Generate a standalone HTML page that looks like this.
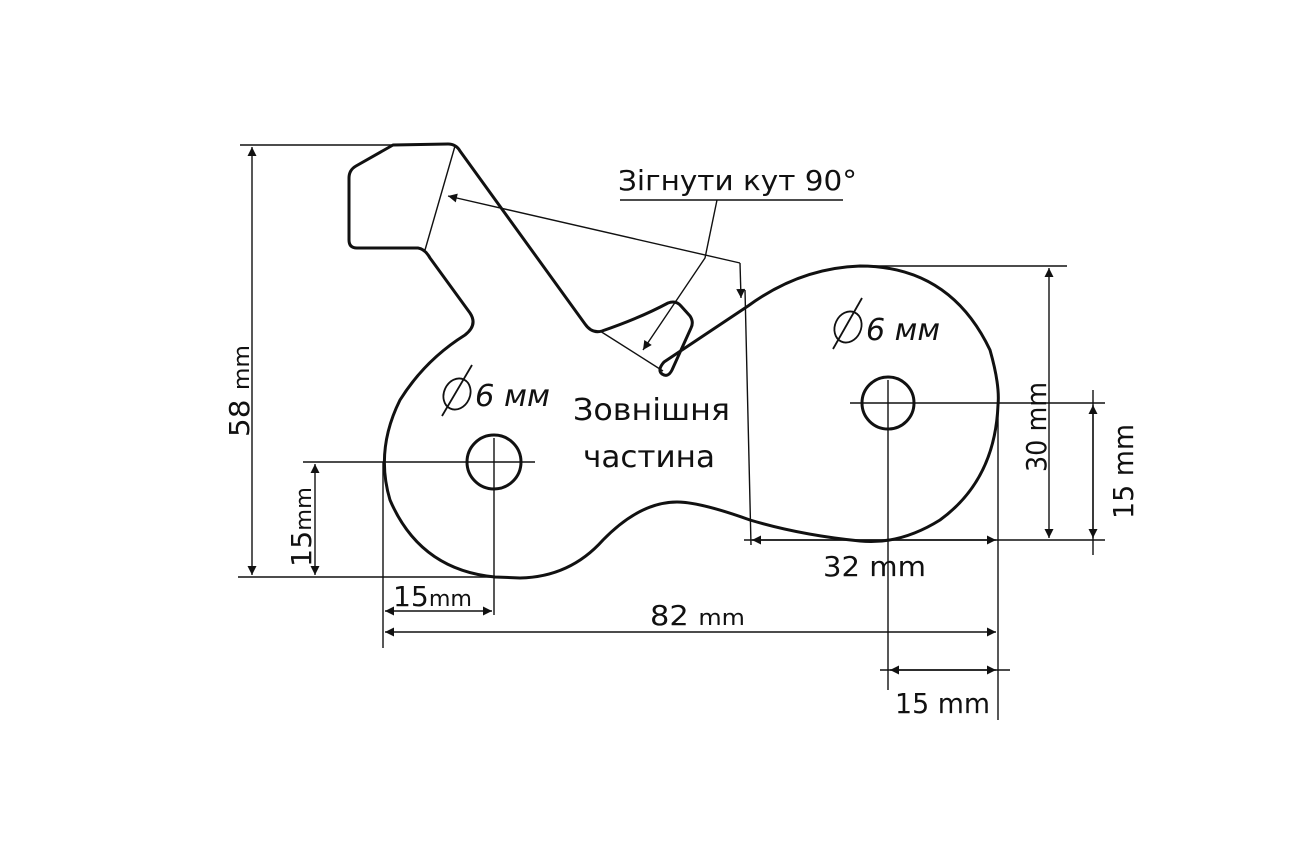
<!DOCTYPE html>
<html><head><meta charset="utf-8"><style>
html,body{margin:0;padding:0;background:#fff;}
svg{display:block}
text{font-family:"DejaVu Sans","Liberation Sans",sans-serif;fill:#111;}
</style></head><body>
<svg width="1296" height="864" viewBox="0 0 1296 864" xmlns="http://www.w3.org/2000/svg">
<defs>
<marker id="a" viewBox="0 0 10 10" refX="10" refY="5" markerWidth="20" markerHeight="9" markerUnits="userSpaceOnUse" orient="auto-start-reverse">
<path d="M0,0 L10,5 L0,10 z" fill="#111"/></marker>
</defs>
<g fill="none" stroke="#111" stroke-width="3" stroke-linejoin="round">
<path d="M393,145 L448,144 Q456,144 460,151 L585,324 Q592,334 602,331 Q640,318 668,303 Q676,300 681,306 L690,316 Q694,322 691,328 L672,370 Q668,378 662,374 Q657,370 664,362 L748,306 Q800,268 860,266 Q950,266 990,350 Q1000,385 998,405 Q995,480 940,520 Q900,545 860,541 Q800,535 750,520 Q700,502 677,502 Q640,502 603,540 Q570,577 520,578 L495,577 Q420,570 390,500 Q375,450 400,400 Q425,360 465,335 Q478,325 470,313 L430,258 Q425,249 418,248 L357,248 Q349,248 349,240 L349,178 Q349,170 356,166 Z"/>
<circle cx="494" cy="462" r="27"/>
<circle cx="888" cy="403" r="26"/>
</g>
<g fill="none" stroke="#111" stroke-width="1.4">
<line x1="455" y1="146" x2="425" y2="250"/>
<line x1="600" y1="331" x2="663" y2="371"/>
<path d="M455,462 H535 M494,438 V615 M850,403 H1105 M888,380 V690"/>
<path d="M240,145 H393 M238,577 H495"/>
<line x1="252" y1="147" x2="252" y2="575" marker-start="url(#a)" marker-end="url(#a)"/>
<path d="M303,462 H455"/>
<line x1="315" y1="464" x2="315" y2="575" marker-start="url(#a)" marker-end="url(#a)"/>
<path d="M383,462 V648 M998,402 V720"/>
<line x1="385" y1="611" x2="492" y2="611" marker-start="url(#a)" marker-end="url(#a)"/>
<line x1="385" y1="632" x2="996" y2="632" marker-start="url(#a)" marker-end="url(#a)"/>
<line x1="890" y1="670" x2="996" y2="670" marker-start="url(#a)" marker-end="url(#a)"/>
<path d="M880,670 H1010"/>
<path d="M745,290 L751,545 M744,540 H1105"/>
<line x1="752" y1="540" x2="996" y2="540" marker-start="url(#a)" marker-end="url(#a)"/>
<path d="M860,266 H1067"/>
<line x1="1049" y1="268" x2="1049" y2="538" marker-start="url(#a)" marker-end="url(#a)"/>
<line x1="1093" y1="405" x2="1093" y2="538" marker-start="url(#a)" marker-end="url(#a)"/>
<path d="M1093,390 V555"/>
<path d="M740,263 L448,196" marker-end="url(#a)"/>
<path d="M740,263 L741,298" marker-end="url(#a)"/>
<path d="M620,200 H843"/>
<path d="M717,200 L705,258 L643,350" marker-end="url(#a)"/>
</g>
<text x="618" y="190" font-size="28" textLength="239" lengthAdjust="spacingAndGlyphs">Зігнути кут 90°</text>
<text x="573" y="420" font-size="30" textLength="157" lengthAdjust="spacingAndGlyphs">Зовнішня</text>
<text x="583" y="467" font-size="30" textLength="132" lengthAdjust="spacingAndGlyphs">частина</text>
<g font-style="italic">
<text x="475" y="406" font-size="30" textLength="75" lengthAdjust="spacingAndGlyphs">6 мм</text>
<text x="866" y="340" font-size="30" textLength="74" lengthAdjust="spacingAndGlyphs">6 мм</text>
</g>
<g fill="none" stroke="#111" stroke-width="1.8">
<ellipse cx="457" cy="394" rx="13" ry="16" transform="rotate(25 457 394)"/>
<line x1="442" y1="416" x2="472" y2="365"/>
<ellipse cx="848" cy="327" rx="13" ry="16" transform="rotate(25 848 327)"/>
<line x1="833" y1="349" x2="862" y2="298"/>
</g>
<text x="393" y="606" font-size="28" textLength="79" lengthAdjust="spacingAndGlyphs">15<tspan font-size="22">mm</tspan></text>
<text x="650" y="625" font-size="28" textLength="95" lengthAdjust="spacingAndGlyphs">82 <tspan font-size="22">mm</tspan></text>
<text x="823" y="576" font-size="28" textLength="103" lengthAdjust="spacingAndGlyphs">32 mm</text>
<text x="895" y="713" font-size="28" textLength="95" lengthAdjust="spacingAndGlyphs">15 mm</text>
<text transform="translate(249,437) rotate(-90)" font-size="28" textLength="92" lengthAdjust="spacingAndGlyphs">58 <tspan font-size="22">mm</tspan></text>
<text transform="translate(311,567) rotate(-90)" font-size="28" textLength="80" lengthAdjust="spacingAndGlyphs">15<tspan font-size="22">mm</tspan></text>
<text transform="translate(1046,472) rotate(-90)" font-size="28" textLength="90" lengthAdjust="spacingAndGlyphs">30 mm</text>
<text transform="translate(1133,519) rotate(-90)" font-size="28" textLength="95" lengthAdjust="spacingAndGlyphs">15 mm</text>
</svg>
</body></html>
